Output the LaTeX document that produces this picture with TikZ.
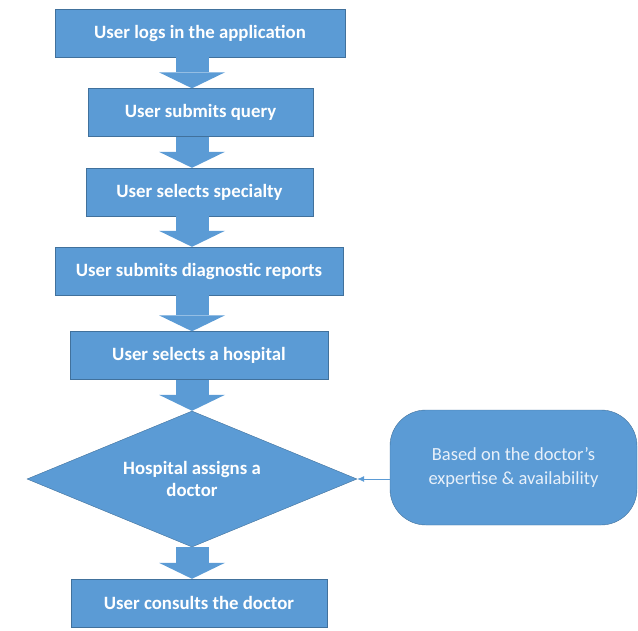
\documentclass[tikz,border=0pt]{standalone}
\usepackage{fontspec}
\setmainfont{Carlito}
\usepackage{xcolor}
\usepackage{tikz}
\usetikzlibrary{shapes.geometric, arrows.meta}

\definecolor{flowblue}{RGB}{91,155,213}
\definecolor{flowedge}{RGB}{65,113,156}
\definecolor{notetext}{RGB}{232,240,250}

\tikzset{
  stepbox/.style={draw=flowedge, fill=flowblue, text=white, minimum height=48pt, inner sep=2pt,
    font=\fontsize{18.8}{23}\selectfont\bfseries},
  blockarrow/.style={draw=flowblue, line width=33pt, -{Triangle[length=16pt, width=66pt, line width=0pt]}},
  linkarrow/.style={draw=flowblue, line width=0.8pt, -{Latex[length=7pt, width=6pt]}}
}

\begin{document}
\begin{tikzpicture}[x=1pt, y=-1pt]
    \useasboundingbox (0,0) rectangle (638,630);

    % Steps of the user
    \node[stepbox, minimum width=290pt] (login) at (200,33) {User logs in the application};
    \node[stepbox, minimum width=225pt] (query) at (200.5,112.5) {User submits query};
    \node[stepbox, minimum width=227pt] (specialty) at (199.5,192) {User selects specialty};
    \node[stepbox, minimum width=288pt] (reports) at (199,271) {User submits diagnostic reports};
    \node[stepbox, minimum width=258pt] (hospital) at (199,355.5) {User selects a hospital};

    % Decision of the hospital
    \node[diamond, aspect=2.4, draw=flowedge, fill=flowblue, text=white, align=center, inner sep=0pt,
      minimum width=330pt, minimum height=136pt, font=\fontsize{18.8}{22}\selectfont\bfseries]
      (assign) at (192,479) {Hospital assigns a\\doctor};

    % Last step
    \node[stepbox, minimum width=256pt] (consult) at (199,603) {User consults the doctor};

    % Note on the right
    \node[draw=flowedge, fill=flowblue, text=notetext, rounded corners=36pt, align=center,
      minimum width=247pt, minimum height=115pt, font=\fontsize{18.5}{24}\selectfont]
      (basis) at (513.5,467.5) {Based on the doctor's\\expertise \& availability};

    % Block arrows
    \draw[blockarrow] (login.south -| assign.north) -- (query.north -| assign.north);
    \draw[blockarrow] (query.south -| assign.north) -- (specialty.north -| assign.north);
    \draw[blockarrow] (specialty.south -| assign.north) -- (reports.north -| assign.north);
    \draw[blockarrow] (reports.south -| assign.north) -- (hospital.north -| assign.north);
    \draw[blockarrow] (hospital.south -| assign.north) -- (assign.north);
    \draw[blockarrow] (assign.south) -- (consult.north -| assign.south);

    % Thin arrow from the note
    \draw[linkarrow] (assign.east -| basis.west) -- (assign.east);
\end{tikzpicture}
\end{document}
